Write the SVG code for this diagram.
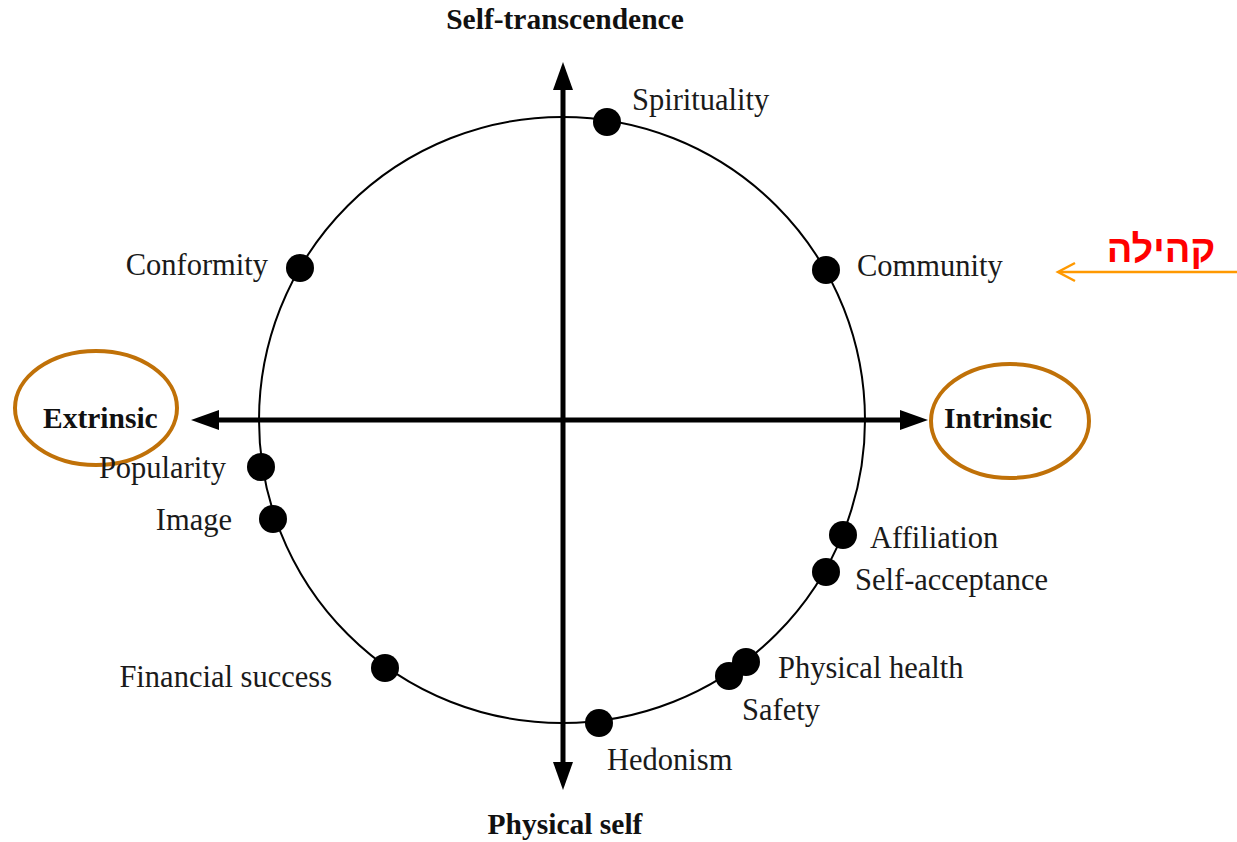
<svg xmlns="http://www.w3.org/2000/svg" width="1237" height="842" viewBox="0 0 1237 842">
<defs>
<marker id="ah" markerUnits="userSpaceOnUse" markerWidth="28" markerHeight="20" refX="1" refY="10" orient="auto-start-reverse">
<path d="M0,0 L28,10 L0,20 z" fill="#000"/>
</marker>
<style>
.lbl{font-family:"Liberation Serif","Times New Roman",serif;font-size:30.5px;fill:#1a1a1a}
.bold{font-family:"Liberation Serif","Times New Roman",serif;font-size:29.5px;font-weight:bold;fill:#111}
.dot{fill:#000}
.ring{fill:none;stroke:#c07108;stroke-width:4}
</style>
</defs>
<rect width="1237" height="842" fill="#fff"/>
<circle cx="562" cy="420" r="303" fill="none" stroke="#000" stroke-width="2"/>
<g id="connectors">
<line x1="563" y1="89" x2="563" y2="763" stroke="#000" stroke-width="5" marker-start="url(#ah)" marker-end="url(#ah)"/>
<line x1="218" y1="420" x2="901" y2="420" stroke="#000" stroke-width="5" marker-start="url(#ah)" marker-end="url(#ah)"/>
<g id="orange-arrow" stroke="#ff9900" stroke-width="2.5" fill="none">
<line x1="1237" y1="272" x2="1059" y2="272"/>
<polyline points="1075,263 1058,272 1075,281"/>
</g>
</g>
<g id="self-transcendence"><text class="bold" x="565" y="29" text-anchor="middle">Self-transcendence</text></g>
<g id="physical-self"><text class="bold" x="565" y="834" text-anchor="middle">Physical self</text></g>
<g id="extrinsic"><ellipse class="ring" cx="96" cy="408" rx="81" ry="57"/><text class="bold" x="43" y="428">Extrinsic</text></g>
<g id="intrinsic"><ellipse class="ring" cx="1010" cy="421" rx="79" ry="57"/><text class="bold" x="944" y="428">Intrinsic</text></g>
<g id="spirituality"><circle class="dot" cx="607" cy="122" r="14"/><text class="lbl" x="632" y="110">Spirituality</text></g>
<g id="conformity"><circle class="dot" cx="300" cy="268" r="14"/><text class="lbl" x="268" y="275" text-anchor="end">Conformity</text></g>
<g id="community"><circle class="dot" cx="826" cy="270" r="14"/><text class="lbl" x="857" y="276">Community</text></g>
<g id="popularity"><circle class="dot" cx="261" cy="467" r="14"/><text class="lbl" x="226" y="478" text-anchor="end">Popularity</text></g>
<g id="image"><circle class="dot" cx="273" cy="519" r="14"/><text class="lbl" x="232" y="530" text-anchor="end">Image</text></g>
<g id="financial-success"><circle class="dot" cx="385" cy="668" r="14"/><text class="lbl" x="332" y="687" text-anchor="end">Financial success</text></g>
<g id="hedonism"><circle class="dot" cx="599" cy="723" r="14"/><text class="lbl" x="607" y="770">Hedonism</text></g>
<g id="safety"><circle class="dot" cx="729" cy="676" r="14"/><text class="lbl" x="742" y="720">Safety</text></g>
<g id="physical-health"><circle class="dot" cx="746" cy="662" r="14"/><text class="lbl" x="778" y="678">Physical health</text></g>
<g id="self-acceptance"><circle class="dot" cx="826" cy="572" r="14"/><text class="lbl" x="855" y="590">Self-acceptance</text></g>
<g id="affiliation"><circle class="dot" cx="843" cy="535" r="14"/><text class="lbl" x="870" y="548">Affiliation</text></g>
<g id="kehila"><text x="1161" y="262" text-anchor="middle" direction="rtl" font-family="'Liberation Sans','DejaVu Sans',sans-serif" font-size="38" font-weight="bold" fill="#ff0000">קהילה</text></g>
</svg>
